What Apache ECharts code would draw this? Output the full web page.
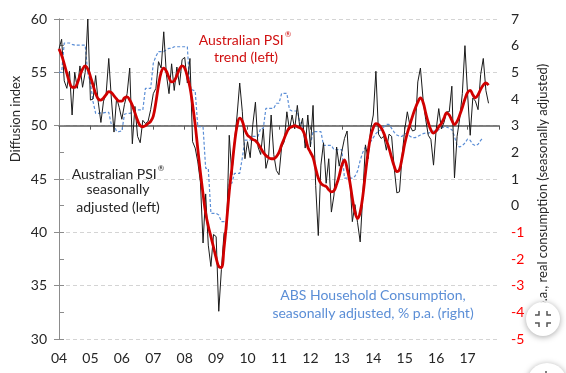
<!DOCTYPE html>
<html>
<head>
<meta charset="utf-8">
<script src="https://cdn.jsdelivr.net/npm/echarts@6/dist/echarts.min.js"></script>
<style>
html,body{margin:0;padding:0;background:#fff;}
#chart{width:566px;height:373px;}
</style>
</head>
<body>
<div id="chart"></div>
<script>
// Year tick labels (one per January, 2004..2017)
const yearLabels = ['04','05','06','07','08','09','10','11','12','13','14','15','16','17'];

// Australian PSI trend (left axis), monthly from Jan 2004
const psiTrend = [
  57.2,56.6,55.8,54.9,54.1,53.6,53.6,54.0,54.7,55.3,55.6,55.3,
  54.6,53.8,53.0,52.5,52.4,52.6,52.9,53.2,53.1,52.8,52.5,52.3,
  52.3,52.6,52.7,52.4,51.9,51.2,50.5,50.0,49.9,50.0,50.2,50.4,
  50.9,52.2,53.8,55.0,55.4,55.1,54.5,54.1,54.2,54.7,55.3,55.6,
  55.4,54.6,53.6,52.0,50.1,47.8,45.6,43.6,41.8,40.6,39.6,38.6,
  37.6,36.8,36.7,38.5,41.0,43.8,46.0,48.3,50.0,50.7,50.4,49.6,
  49.1,48.9,48.7,48.6,48.3,47.9,47.5,47.2,47.0,46.9,46.9,47.1,
  47.5,48.2,48.8,49.4,49.8,49.9,50.0,49.9,49.8,49.6,49.0,48.0,
  47.5,47.0,46.0,45.1,44.6,44.4,44.3,44.0,43.8,43.9,44.5,45.3,
  46.3,46.8,46.0,44.8,43.2,41.9,41.3,41.9,43.4,45.5,47.5,49.0,
  49.8,50.2,50.1,49.8,49.3,48.6,47.9,47.0,46.2,45.7,45.9,47.0,
  48.3,49.3,50.1,50.9,51.6,52.2,52.6,52.2,51.2,50.3,49.6,49.3,
  49.5,49.9,50.2,50.7,51.2,51.0,50.5,50.1,50.4,51.0,51.7,52.5,
  53.1,53.3,52.9,52.6,52.9,53.4,53.8,54.0,53.8
];

// Australian PSI seasonally adjusted (left axis), monthly from Jan 2004
const psiSA = [
  57.2,58.1,54.2,53.5,55.1,51.0,55.0,53.5,55.6,53.6,55.0,60.0,
  52.4,52.5,54.7,52.2,50.3,52.3,53.0,56.3,52.5,49.4,52.6,51.7,
  50.6,52.0,53.0,55.4,48.3,51.8,49.0,48.4,50.5,50.2,50.4,51.5,
  53.0,53.5,56.0,55.4,58.8,54.8,53.0,55.8,53.3,55.5,53.8,56.2,
  56.4,54.0,56.3,48.5,47.9,46.6,44.7,39.0,43.6,38.8,36.8,39.8,
  39.6,32.6,36.5,39.9,40.2,49.1,45.4,48.5,51.0,54.0,51.3,46.9,
  48.5,47.0,50.1,52.2,48.0,47.3,49.7,46.0,47.0,51.0,47.3,45.8,
  45.4,48.0,48.5,51.3,49.6,51.0,49.7,51.9,49.7,50.7,47.9,51.0,
  48.0,51.9,44.4,39.7,46.3,48.4,44.6,46.9,41.9,43.5,48.0,46.2,
  47.6,48.8,49.5,45.4,41.0,42.6,40.9,39.1,43.5,48.2,46.9,49.7,
  51.0,55.1,49.2,48.8,49.0,47.7,49.2,49.0,46.0,43.7,43.8,47.2,
  49.6,51.3,50.0,49.5,49.6,54.1,55.4,52.5,50.6,49.1,48.7,46.3,
  49.6,51.6,49.7,50.3,51.3,51.3,53.7,45.1,49.0,50.7,53.0,57.5,
  53.0,49.1,52.6,52.3,51.5,54.8,56.3,53.3,52.1
];

// ABS household consumption, % p.a. (right axis), monthly from Jan 2004
const consumption = [
  5.0,5.0,6.1,6.1,6.1,6.05,6.02,6.02,6.02,6.02,6.02,4.96,
  4.6,3.9,3.46,3.46,3.48,3.48,3.5,3.5,3.03,3.03,2.78,2.78,
  2.8,3.43,3.46,3.46,3.5,3.55,3.59,3.59,3.59,4.4,4.4,4.4,
  5.34,5.6,5.78,5.78,5.78,5.85,5.9,5.9,5.96,5.96,5.96,5.96,
  5.96,5.96,4.34,4.34,4.3,2.96,2.96,2.96,1.4,1.4,-0.29,-0.29,
  -0.29,-0.35,-0.6,-0.6,-0.6,0.84,0.84,1.21,1.21,1.21,1.8,2.46,
  2.46,2.46,2.6,2.6,2.6,2.9,2.9,3.65,3.65,3.65,3.65,3.84,
  3.84,4.21,4.21,4.21,3.6,3.55,3.55,3.55,3.1,3.1,2.28,2.28,
  2.28,2.78,2.78,2.78,2.78,2.26,2.26,2.26,2.26,2.1,2.1,2.1,
  2.1,1.03,1.03,1.03,1.03,1.1,1.3,1.7,2.0,2.2,2.2,2.4,
  2.55,2.7,2.8,2.85,2.95,3.05,3.05,2.9,2.75,2.65,2.6,2.6,
  2.7,2.7,2.6,2.55,2.55,2.6,2.65,2.7,2.72,2.72,2.75,2.8,
  2.8,2.85,2.9,2.95,2.95,2.9,2.85,2.6,2.25,2.2,2.25,2.35,
  2.5,2.45,2.3,2.25,2.3,2.45,2.55,null,null
];

const FONT = 'Lato, "Open Sans", sans-serif';
const toPairs = arr => arr.map((v, i) => [i, v]);

const chart = echarts.init(document.getElementById('chart'), null, {renderer: 'canvas'});

function line(x, y, txt, color, size) {
  return {
    type: 'text', z: 50,
    style: {
      x: x, y: y, text: txt, fill: color, font: size + 'px ' + FONT,
      textAlign: 'center', textVerticalAlign: 'middle'
    }
  };
}
function supLine(x, y, main, color, size) {
  return {
    type: 'text', z: 50,
    style: {
      x: x, y: y, text: '{a|' + main + '}{s|®}',
      textAlign: 'center', textVerticalAlign: 'middle',
      rich: {
        a: {fill: color, fontSize: size, fontFamily: FONT, lineHeight: 18, verticalAlign: 'bottom'},
        s: {fill: color, fontSize: 8, fontFamily: FONT, lineHeight: 18, verticalAlign: 'top', padding: [1, 0, 0, 1]}
      }
    }
  };
}

const option = {
  animation: false,
  backgroundColor: '#ffffff',
  grid: {left: 59, right: 67, top: 19, bottom: 34, containLabel: false},
  xAxis: [
    {
      type: 'value', min: 0, max: 168, interval: 12,
      axisLine: {show: false}, axisTick: {show: false}, splitLine: {show: false},
      axisLabel: {
        margin: 12, color: '#262626', fontSize: 14, fontFamily: FONT,
        formatter: v => (yearLabels[v / 12] !== undefined ? yearLabels[v / 12] : '')
      }
    },
    {
      type: 'value', min: 0, max: 168, interval: 12, position: 'bottom', offset: -213.33,
      axisLine: {show: true, lineStyle: {color: '#595959', width: 1.5}},
      axisTick: {show: true, length: 4, lineStyle: {color: '#595959', width: 1}},
      axisLabel: {show: false}, splitLine: {show: false}
    }
  ],
  yAxis: [
    {
      type: 'value', min: 30, max: 60, interval: 5, position: 'left',
      axisLine: {show: true, lineStyle: {color: '#8c8c8c', width: 1}},
      axisTick: {show: true, length: 5, lineStyle: {color: '#8c8c8c'}},
      splitLine: {show: true, lineStyle: {color: '#d4d4d4', type: [4, 3], width: 1}},
      axisLabel: {margin: 12, color: '#262626', fontSize: 14, fontFamily: FONT}
    },
    {
      type: 'value', min: -5, max: 7, interval: 1, position: 'right',
      axisLine: {show: true, lineStyle: {color: '#8c8c8c', width: 1}},
      axisTick: {show: true, length: 5, lineStyle: {color: '#8c8c8c'}},
      splitLine: {show: false},
      axisLabel: {
        margin: 12, fontSize: 14, fontFamily: FONT,
        color: v => (Number(v) < 0 ? '#ff0000' : '#262626')
      }
    }
  ],
  series: [
    {
      name: 'ABS Household Consumption', type: 'line', xAxisIndex: 0, yAxisIndex: 1,
      data: toPairs(consumption), showSymbol: false, connectNulls: false, z: 2,
      lineStyle: {color: '#5b8ed6', width: 1.2, type: [3, 2]}
    },
    {
      name: 'Australian PSI seasonally adjusted', type: 'line', xAxisIndex: 0, yAxisIndex: 0,
      data: toPairs(psiSA), showSymbol: false, z: 3,
      lineStyle: {color: '#1a1a1a', width: 1}
    },
    {
      name: 'Australian PSI trend', type: 'line', xAxisIndex: 0, yAxisIndex: 0,
      data: toPairs(psiTrend), showSymbol: false, smooth: 0.4, z: 4,
      lineStyle: {color: '#d00000', width: 2.8}
    }
  ],
  graphic: [
    // axis titles
    {type: 'text', z: 50, x: 16, y: 119, rotation: Math.PI / 2,
      style: {x: 0, y: 0, text: 'Diffusion index', fill: '#262626', font: '13px ' + FONT,
        textAlign: 'center', textVerticalAlign: 'middle'}},
    {type: 'text', z: 50, x: 543, y: 193, rotation: Math.PI / 2,
      style: {x: 0, y: 0, text: '% p.a., real consumption (seasonally adjusted)', fill: '#262626', font: '13px ' + FONT,
        textAlign: 'center', textVerticalAlign: 'middle'}},
    // annotations
    supLine(245, 38, 'Australian PSI', '#d01010', 14),
    line(246, 57, 'trend (left)', '#d01010', 14),
    supLine(118, 172, 'Australian PSI', '#262626', 14),
    line(118, 189, 'seasonally', '#262626', 14),
    line(118, 207, 'adjusted (left)', '#262626', 14),
    line(373, 295, 'ABS Household Consumption,', '#5b8ed6', 14),
    line(373, 313, 'seasonally adjusted, % p.a. (right)', '#5b8ed6', 14),
    // viewer overlay buttons
    {type: 'circle', z: 60, shape: {cx: 543, cy: 319, r: 17},
      style: {fill: '#ffffff', shadowBlur: 6, shadowColor: 'rgba(0,0,0,0.35)', shadowOffsetY: 1}},
    {type: 'polyline', z: 61, shape: {points: [[535, 315], [539, 315], [539, 311]]}, style: {stroke: '#555', lineWidth: 1.5, fill: null}},
    {type: 'polyline', z: 61, shape: {points: [[551, 315], [547, 315], [547, 311]]}, style: {stroke: '#555', lineWidth: 1.5, fill: null}},
    {type: 'polyline', z: 61, shape: {points: [[535, 323], [539, 323], [539, 327]]}, style: {stroke: '#555', lineWidth: 1.5, fill: null}},
    {type: 'polyline', z: 61, shape: {points: [[551, 323], [547, 323], [547, 327]]}, style: {stroke: '#555', lineWidth: 1.5, fill: null}},
    {type: 'circle', z: 60, shape: {cx: 547, cy: 383, r: 20},
      style: {fill: '#ffffff', shadowBlur: 6, shadowColor: 'rgba(0,0,0,0.35)', shadowOffsetY: 1}},
    {type: 'circle', z: 61, shape: {cx: 546, cy: 372, r: 1}, style: {fill: '#555'}}
  ]
};
chart.setOption(option);
</script>
</body>
</html>
